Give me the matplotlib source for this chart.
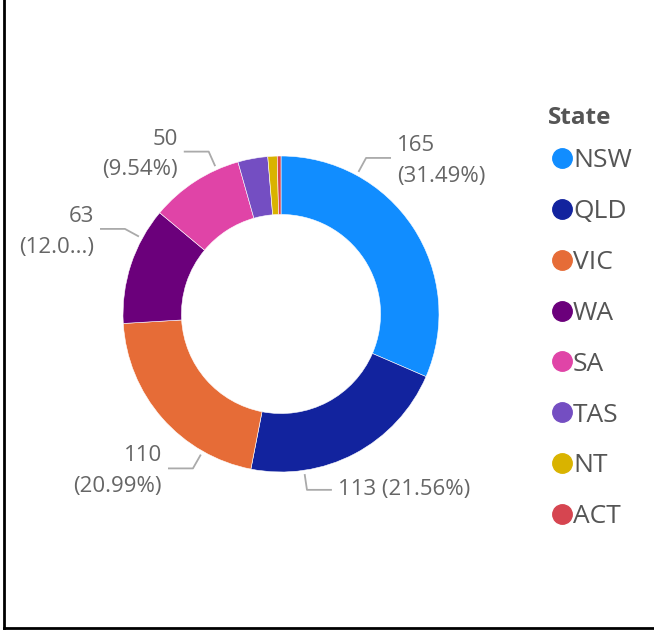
import numpy as np
import matplotlib
matplotlib.use("Agg")
import matplotlib.pyplot as plt
from matplotlib.lines import Line2D

plt.rcParams['font.family'] = ['Open Sans', 'DejaVu Sans']

# data
states = ["NSW", "QLD", "VIC", "WA", "SA", "TAS", "NT", "ACT"]
counts = [165, 113, 110, 63, 50, 16, 5, 2]
colors = ["#118DFF", "#12239E", "#E66C37", "#6B007B", "#E044A7", "#744EC2", "#D9B300", "#D64550"]

# which slices get a data label, and where the leader line leaves the ring (deg)
labelled = ["NSW", "QLD", "VIC", "WA", "SA"]
anchor_deg = {"NSW": 61.4, "QLD": -81.6, "VIC": 240.3, "WA": 151.4, "SA": 114.0}
one_line = {"QLD"}
truncated = {"WA"}

W, H = 654, 630
fig = plt.figure(figsize=(W / 100, H / 100), dpi=100)

# pie axes: centre at (281, 314) px, outer radius 158 px
R = 158.0
cx, cy = 281, 314
half = 281
ax = fig.add_axes([(cx - half) / W, (H - cy - half) / H, 2 * half / W, 2 * half / H])

wedges, _ = ax.pie(counts, colors=colors, startangle=90, counterclock=False,
                   radius=1.0, wedgeprops=dict(width=0.37, edgecolor="white", linewidth=0.4))
ax.set_xlim(-half / R, half / R)
ax.set_ylim(-half / R, half / R)
ax.axis("off")

total = sum(counts)
lab_color = "#666666"
for name in labelled:
    i = states.index(name)
    pct = f"({counts[i] / total * 100:.2f}%)"
    if name in truncated:
        pct = pct[:5] + "...)"
    txt = f"{counts[i]} {pct}" if name in one_line else f"{counts[i]}\n{pct}"
    a = np.radians(anchor_deg[name])
    x0, y0 = 1.03 * np.cos(a), 1.03 * np.sin(a)
    x1, y1 = 1.125 * np.cos(a), 1.125 * np.sin(a)
    side = 1 if np.cos(a) >= 0 else -1
    x2 = x1 + side * 0.152
    ax.plot([x0, x1, x2], [y0, y1, y1], color="#aaaaaa", lw=1.3, clip_on=False)
    dy = 0 if name in one_line else -0.018
    ax.text(x2 + side * 0.045, y1 + dy, txt, ha="left" if side > 0 else "right",
            va="center", fontsize=16, color=lab_color, linespacing=1.62,
            multialignment="left" if side > 0 else "right")

# legend
fig.text(548 / W, 1 - 118 / H, "State", fontsize=17.5, fontweight="bold",
         color="#555555", ha="left", va="center")
handles = [Line2D([], [], marker="o", linestyle="none", markersize=14,
                  markerfacecolor=c, markeredgecolor=c) for c in colors]
leg = fig.legend(handles, states, loc="upper left", bbox_to_anchor=(536 / W, 1 - 135 / H),
                 frameon=False, fontsize=19, alignment="left",
                 handletextpad=-0.1, handlelength=1.0,
                 labelspacing=0.98, borderpad=0.0)
for t in leg.get_texts():
    t.set_color("#555555")

# border at left and bottom
fig.add_artist(Line2D([4 / W, 4 / W], [2 / H, 1], color="black", lw=2))
fig.add_artist(Line2D([4 / W, 1], [2 / H, 2 / H], color="black", lw=2))

fig.savefig("out.png", dpi=100)
